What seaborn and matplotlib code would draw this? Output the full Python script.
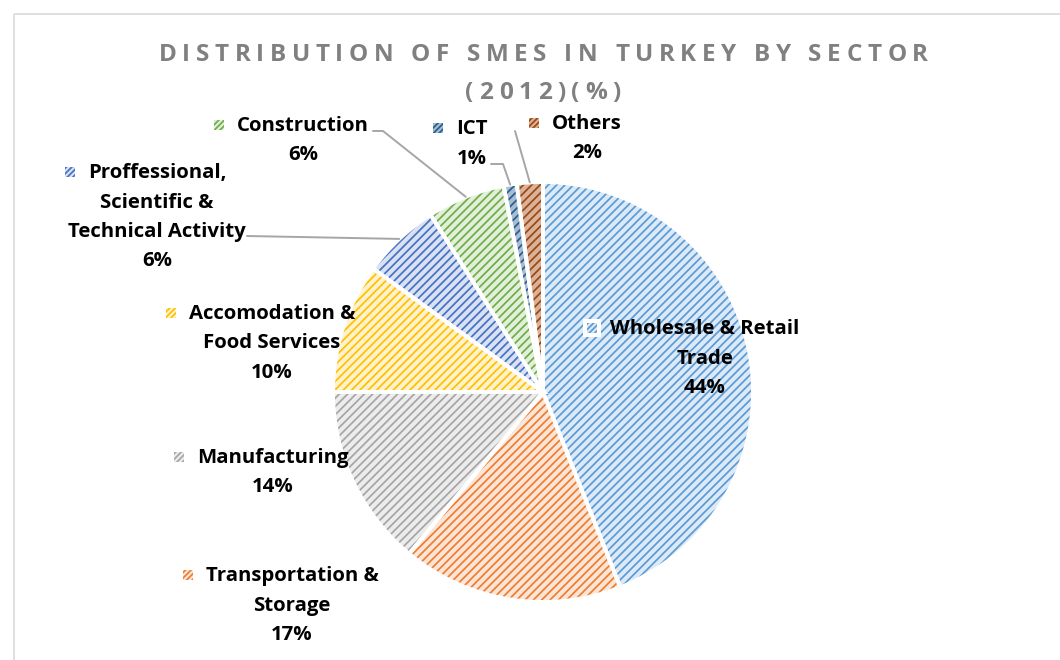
import matplotlib
matplotlib.use("Agg")
import matplotlib.pyplot as plt
import seaborn as sns
import numpy as np
from matplotlib.font_manager import FontProperties
from matplotlib.patches import Rectangle

# data
sectors = ["Wholesale & Retail Trade", "Transportation & Storage", "Manufacturing",
           "Accomodation & Food Services", "Proffessional, Scientific & Technical Activity",
           "Construction", "ICT", "Others"]
shares = [44, 17, 14, 10, 6, 6, 1, 2]
label_lines = [["Wholesale & Retail", "Trade"],
               ["Transportation &", "Storage"],
               ["Manufacturing"],
               ["Accomodation &", "Food Services"],
               ["Proffessional,", "Scientific &", "Technical Activity"],
               ["Construction"],
               ["ICT"],
               ["Others"]]

title_lines = ["DISTRIBUTION OF SMES IN TURKEY BY SECTOR", "(2012)(%)"]

# styling
stripe_colors = ["#5B9BD5", "#ED7D31", "#A5A5A5", "#FFC000", "#4472C4", "#70AD47", "#255E91", "#9E480E"]
face_colors = ["#DCE9F6", "#FCE5D6", "#ECECEC", "#FFF2CC", "#D9E1F2", "#E2EFDA", "#A9BDD2", "#D9B29B"]

# label placement in pixels: (text centre x, first line y)
label_pos = [(705, 329), (292, 576), (273, 458), (272, 314), (157, 173), (303, 126), (472, 129), (587, 124)]
line_gap = 29.5
# leader line knees (pixels) for the small slices, None = no leader
leader_start = [None, None, None, None, [(247, 236)], [(373, 131), (383, 131)],
                [(491, 164), (503, 164)], [(515, 131)]]

sns.set_theme(style="white")
plt.rcParams["font.family"] = ["Open Sans", "DejaVu Sans"]
plt.rcParams["hatch.linewidth"] = 1.25

W, H = 1060, 660
fig = plt.figure(figsize=(W / 100, H / 100), dpi=100)
fig.patch.set_facecolor("white")

# pie: centre (543, 392), radius 210 px
cx, cy, rad = 543, 392, 210
ax = fig.add_axes([(cx - rad) / W, (H - cy - rad) / H, 2 * rad / W, 2 * rad / H])
wedges, _ = ax.pie(shares, startangle=90, counterclock=False, colors=face_colors,
                   wedgeprops=dict(linewidth=0))
for w, c in zip(wedges, stripe_colors):
    w.set_hatch("////")
    w.set_edgecolor(c)
    w.set_linewidth(0)
ax.pie(shares, startangle=90, counterclock=False,
       wedgeprops=dict(fill=False, edgecolor="white", linewidth=2.8))
ax.set_xlim(-1, 1)
ax.set_ylim(-1, 1)
ax.set_aspect("equal")
ax.axis("off")

# overlay in pixel coordinates
ov = fig.add_axes([0, 0, 1, 1])
ov.set_xlim(0, W)
ov.set_ylim(H, 0)
ov.axis("off")
ov.patch.set_alpha(0)

ov.add_patch(Rectangle((14, 14), 1200, 800, fill=False, edgecolor="#D9D9D9", linewidth=1.2))

renderer = fig.canvas.get_renderer()


def text_w(s, prop):
    bar = renderer.get_text_width_height_descent("|", prop, ismath=False)[0]
    return renderer.get_text_width_height_descent(s + "|", prop, ismath=False)[0] - bar


# title with letter spacing
tprop = FontProperties(family="Open Sans", weight="bold", size=17.5)
spacing = (769 - text_w(title_lines[0], tprop)) / (len(title_lines[0]) - 1)
for line, ty in zip(title_lines, [55, 93]):
    total = text_w(line, tprop) + spacing * (len(line) - 1)
    x0 = 543 - total / 2
    for i, ch in enumerate(line):
        ov.text(x0 + text_w(line[:i], tprop) + i * spacing, ty, ch, fontproperties=tprop,
                color="#808080", ha="left", va="center")

# data labels, sized so the widest label line matches the reference (~190 px)
lprop = FontProperties(family="Open Sans", weight="bold", size=10)
lprop.set_size(10 * 190 / text_w("Wholesale & Retail", lprop))
for k, (lines, v) in enumerate(zip(label_lines, shares)):
    tx, ty = label_pos[k]
    for j, s in enumerate(lines + [f"{v}%"]):
        ov.text(tx, ty + j * line_gap, s, fontproperties=lprop, color="black",
                ha="center", va="center")
    left = tx - text_w(lines[0], lprop) / 2
    if k == 0:
        ov.scatter([left - 18], [ty - 1], marker="s", s=150, color="white", linewidth=0, zorder=3)
    ov.scatter([left - 18], [ty - 1], marker="s", s=50, color=face_colors[k],
               edgecolor=stripe_colors[k], linewidth=0, hatch="//////", zorder=4)

# leader lines to slice middles
for k, pts in enumerate(leader_start):
    if pts is None:
        continue
    w = wedges[k]
    mid = np.deg2rad((w.theta1 + w.theta2) / 2)
    ex, ey = ov.transData.inverted().transform(ax.transData.transform((np.cos(mid), np.sin(mid))))
    xs = [p[0] for p in pts] + [ex]
    ys = [p[1] for p in pts] + [ey]
    ov.plot(xs, ys, color="#A6A6A6", linewidth=1.4)

fig.savefig("out.png", dpi=100, facecolor="white")
